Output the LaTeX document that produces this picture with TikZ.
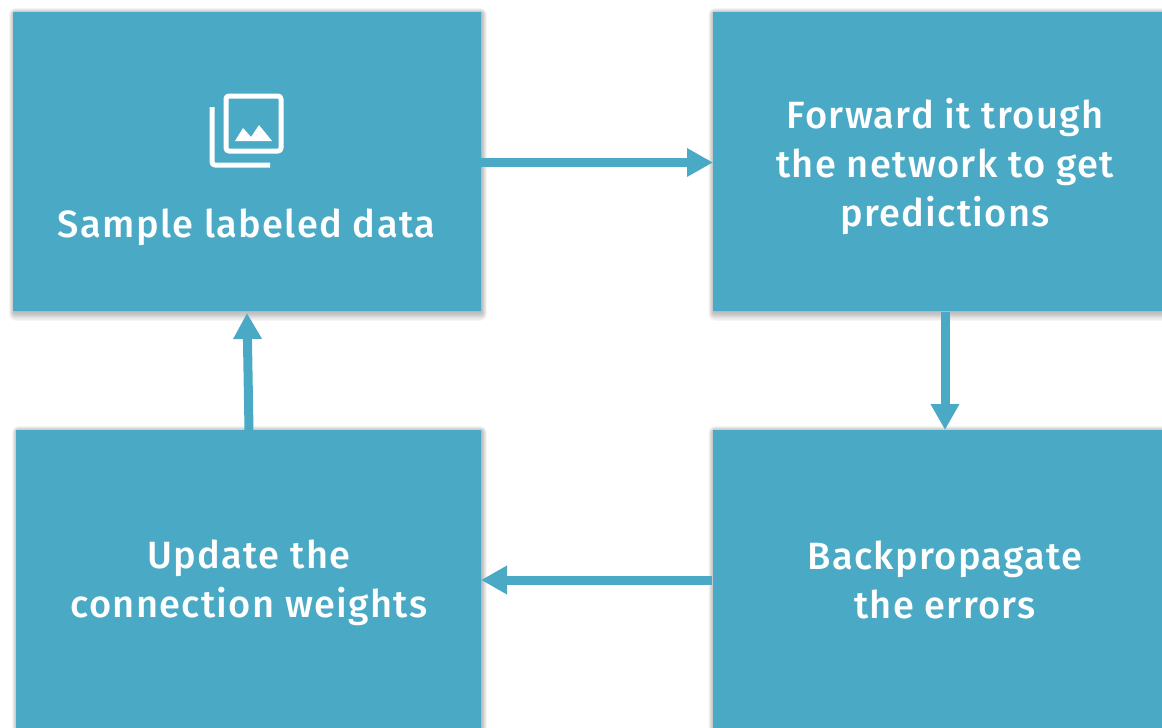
\documentclass[tikz,border=0pt]{standalone}
\usepackage{fontspec}
\setmainfont{Fira Sans}[UprightFont=* Medium,LetterSpace=3.5]
\usetikzlibrary{arrows.meta,calc,backgrounds}
\definecolor{boxc}{HTML}{4AAAC5}
\tikzset{
 box/.style={fill=boxc,anchor=north west,inner sep=0pt},
 lbl/.style={text=white,font=\fontsize{38}{49}\selectfont,align=center,inner sep=0pt},
 conn/.style={draw=boxc,line width=9pt,-{Triangle[length=26pt,width=27pt]}},
 ic/.style={draw=white,line width=5pt,line join=round}
}
\begin{document}
\begin{tikzpicture}[x=1pt,y=-1pt]
\useasboundingbox (0,0) rectangle (1162,728);
\begin{scope}
\clip (0,0) rectangle (1162,728);
\node[box,minimum width=467.5pt,minimum height=299pt] (a) at (13,12) {};
\node[box,minimum width=470pt,minimum height=299pt] (b) at (712.5,12) {};
\node[box,minimum width=470pt,minimum height=320pt] (c) at (712.5,430) {};
\node[box,minimum width=464.5pt,minimum height=320pt] (d) at (16,430) {};
\begin{scope}[on background layer]
\foreach \n in {a,b,c,d}{
  \foreach \s in {0,1,2,3,4,5,6,7}{
    \fill[black,opacity=.04,rounded corners=\s pt]
      ($(\n.north west)+(-\s*0.7+1,-\s*0.7+1)$) rectangle ($(\n.south east)+(\s*0.7+1,\s*1.2+1)$);
  }
}
\end{scope}
\end{scope}
\coordinate (bt) at (945,312);
\coordinate (ct) at (945,430);
\coordinate (ab) at (481,162.5);
\coordinate (bl) at (713,162.5);
\coordinate (cl) at (712,580);
\coordinate (dr) at (481,580);
\coordinate (dt) at (249,430);
\coordinate (at) at (247,313);
\draw[conn] (ab) -- (bl);
\draw[conn] (bt) -- (ct);
\draw[conn] (cl) -- (dr);
\draw[conn] (dt) -- (at);
\node[lbl] (ta) at (246.5,227) {Sample labeled data};
\node[lbl] (tb) at (945,166) {Forward it trough\\the network to get\\predictions};
\node[lbl] (tc) at (945,579.5) {Backpropagate\\the errors};
\node[lbl] (td) at (249,583) {Update the\\connection weights};
\draw[ic,rounded corners=3pt] (226,96) rectangle (281,151);
\draw[ic,rounded corners=3pt] (212,107) -- (212,165) -- (270,165);
\fill[white] (235,141) -- (243,128) -- (251,137) -- (259,125) -- (272,141) -- cycle;
\end{tikzpicture}
\end{document}
